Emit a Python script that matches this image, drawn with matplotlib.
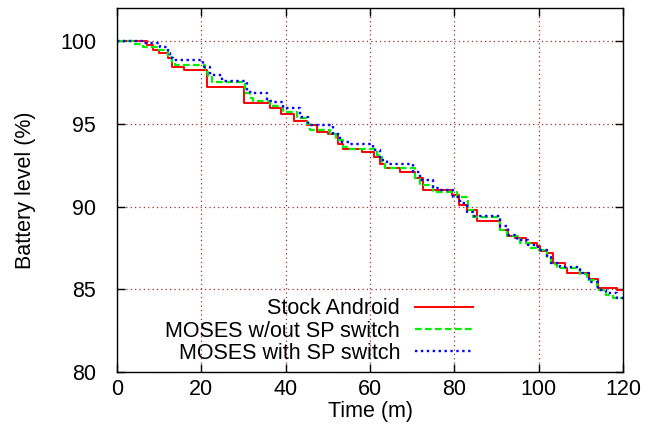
import matplotlib
matplotlib.use("Agg")
import matplotlib.pyplot as plt

# ---- data ----
stock_t = [0, 7, 8.5, 10, 12, 13, 16, 21.3, 23.2, 30, 32, 36.3, 39, 42, 45, 47.4, 50, 52.4, 53.6, 58,
           61, 62.4, 63.5, 67, 70.7, 72.6, 79.4, 81, 83, 85.4, 90.8, 92.7, 94.4, 97, 99.6, 100.3, 102,
           103.4, 106.2, 106.7, 112, 114, 118.5, 120]
stock_v = [100, 99.76, 99.46, 99.27, 98.97, 98.45, 98.25, 97.24, 97.24, 96.25, 96.25, 95.95, 95.6, 95.2,
           94.9, 94.5, 94.4, 93.8, 93.5, 93.3, 93.0, 92.6, 92.3, 92.1, 91.7, 91.0, 90.7, 90.1, 89.8, 89.15,
           88.6, 88.2, 88.1, 87.8, 87.6, 87.3, 87.2, 86.6, 86.3, 86.0, 85.6, 85.05, 84.95, 84.95]

nosw_t = [0, 3.8, 6.2, 9.5, 12, 13, 13.8, 20.9, 21.6, 22.5, 30.4, 31.5, 32.3, 36.3, 39.4, 42.7, 45,
          45.8, 50.5, 52, 53.6, 54.5, 61.6, 62.8, 63.5, 70.7, 71.8, 75, 80.6, 83.3, 84.4, 90.8, 92.4,
          95.6, 98, 99.8, 102, 103, 104.3, 109.8, 111.5, 113.8, 116, 117.6, 120]
nosw_v = [100, 99.85, 99.66, 99.46, 99.05, 98.7, 98.55, 98.15, 97.8, 97.5, 96.85, 96.55, 96.4, 96.1,
          95.7, 95.35, 95.0, 94.6, 94.4, 94.0, 93.6, 93.5, 93.1, 92.6, 92.3, 91.7, 91.3, 90.9, 90.6,
          89.8, 89.35, 88.6, 88.2, 87.8, 87.5, 87.4, 86.95, 86.5, 86.3, 85.9, 85.55, 84.95, 84.65, 84.47,
          84.47]

sw_t = [0, 6.2, 10.2, 12, 12.6, 13.3, 20.4, 22, 25, 30.8, 32.3, 35.6, 37, 39.4, 43.4, 45.3, 46.5,
        51.2, 52.9, 55.3, 60.7, 62.4, 64, 70.2, 71.8, 75, 76.6, 79.7, 81.3, 83, 84.4, 90.8, 92.7, 94.8,
        97.5, 99.8, 102, 103, 105, 109.8, 112, 114, 116, 118.5, 120]
sw_v = [100, 99.86, 99.66, 99.27, 98.97, 98.85, 98.43, 97.95, 97.6, 96.9, 96.85, 96.4, 96.3, 95.95,
        95.4, 94.95, 94.9, 94.4, 93.9, 93.8, 93.4, 92.8, 92.6, 92.1, 91.6, 91.1, 91.0, 90.6, 90.2, 89.7,
        89.45, 88.8, 88.3, 88.0, 87.7, 87.4, 86.95, 86.6, 86.35, 86.0, 85.45, 84.95, 84.75, 84.5, 84.5]

labels = ["Stock Android", "MOSES w/out SP switch", "MOSES with SP switch"]
xticks = [0, 20, 40, 60, 80, 100, 120]
yticks = [80, 85, 90, 95, 100]

plt.rcParams['font.family'] = ['Liberation Sans', 'DejaVu Sans']
plt.rcParams['font.size'] = 15.5

fig = plt.figure(figsize=(6.59, 4.41), dpi=100)
ax = fig.add_axes([117/659, 69/441, 506/659, 364/441])

ax.plot(stock_t, stock_v, drawstyle='steps-post', color='#ff0000', lw=1.4, label=labels[0])
ax.plot(nosw_t, nosw_v, drawstyle='steps-post', color='#00f000', lw=1.6,
        linestyle=(0, (3, 1.5)), label=labels[1])
ax.plot(sw_t, sw_v, drawstyle='steps-post', color='#0000ff', lw=1.7,
        linestyle=(0, (1, 1.5)), label=labels[2])

ax.set_xlim(0, 120)
ax.set_ylim(80, 102)
ax.set_xticks(xticks)
ax.set_yticks(yticks)
ax.tick_params(direction='in', top=True, right=True, length=6, width=1)
ax.tick_params(axis='x', pad=5)
ax.tick_params(axis='y', pad=15)
for s in ax.spines.values():
    s.set_linewidth(1.0)
ax.grid(True, color='#a03030', linestyle=(0, (1, 2.5)), lw=0.9)
ax.set_axisbelow(True)

ax.set_xlabel("Time (m)", labelpad=1)
ax.set_ylabel("Battery level (%)", labelpad=17)

ax.legend(loc='upper right', bbox_to_anchor=(0.704, 0.202), frameon=False, markerfirst=False,
          handlelength=2.7, handletextpad=0.7, labelspacing=0.05, borderpad=0, borderaxespad=0)

fig.savefig("out.png", dpi=100)
